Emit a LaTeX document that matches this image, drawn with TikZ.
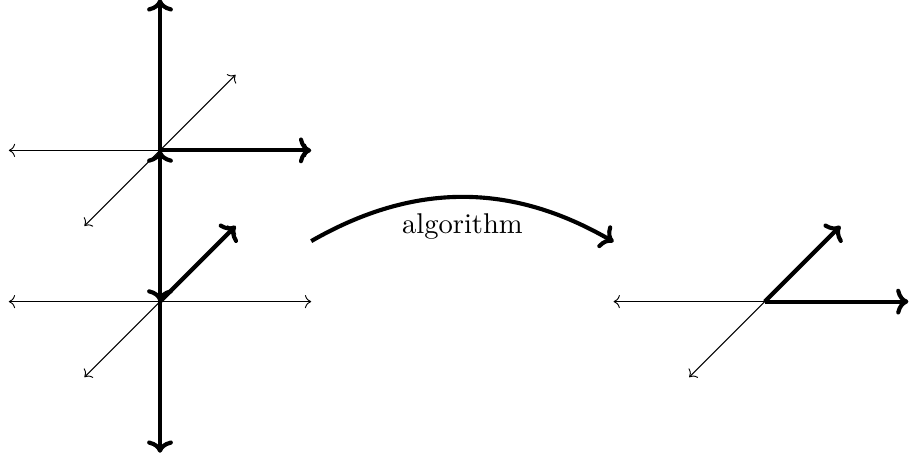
\documentclass[tikz,border=0pt]{standalone}
\usepackage{fontspec}
\usetikzlibrary{arrows.meta}
\begin{document}
\begin{tikzpicture}[
  thinax/.style={line width=0.7pt},
  thintip/.style={-{To[scale=1.5]}},
  thinboth/.style={{To[scale=1.5]}-{To[scale=1.5]}},
  vec/.style={line width=3.1pt,-{To[scale=1.1]}},
  lbl/.style={scale=2.15, inner sep=0pt, anchor=base}
]
\useasboundingbox (-4.233,-4.164) rectangle (19.868,7.979);
% origins
\coordinate (O1) at (0,4);
\coordinate (O2) at (0,0);
\coordinate (O3) at (16,0);
% upper system endpoints
\coordinate (U-l) at (-4,4);
\coordinate (U-r) at (4,4);
\coordinate (U-dl) at (-2,2);
\coordinate (U-dr) at (2,6);
\coordinate (U-top) at (0,8);
% lower system endpoints
\coordinate (L-l) at (-4,0);
\coordinate (L-r) at (4,0);
\coordinate (L-dl) at (-2,-2);
\coordinate (L-dr) at (2,2);
\coordinate (L-bot) at (0,-4);
% right system endpoints
\coordinate (R-l) at (12,0);
\coordinate (R-dl) at (14,-2);
\coordinate (R-r) at (19.8,0);
\coordinate (R-dr) at (18,2);
% curve endpoints
\coordinate (C-s) at (4,1.6);
\coordinate (C-e) at (12,1.58);

% thin axes
\draw[thinax,thinboth] (U-l) -- (U-r);
\draw[thinax,thinboth] (U-dl) -- (U-dr);
\draw[thinax,thinboth] (L-l) -- (L-r);
\draw[thinax,thinboth] (L-dl) -- (L-dr);
\draw[thinax,thintip] (O3) -- (R-l);
\draw[thinax,thintip] (O3) -- (R-dl);

% thick vectors, upper system
\draw[vec] (O1) -- (U-top);
\draw[vec] (O1) -- (U-r);
\draw[vec] (O1) -- (O2);
% thick vectors, lower system
\draw[vec] (O2) -- (O1);
\draw[vec] (O2) -- (L-dr);
\draw[vec] (O2) -- (L-bot);
% thick vectors, right system
\draw[vec] (O3) -- (R-r);
\draw[vec] (O3) -- (R-dr);

% algorithm arrow
\draw[vec] (C-s) to[bend left=30] (C-e);
\node[lbl] (alg) at (8,1.81) {algorithm};
\end{tikzpicture}
\end{document}
